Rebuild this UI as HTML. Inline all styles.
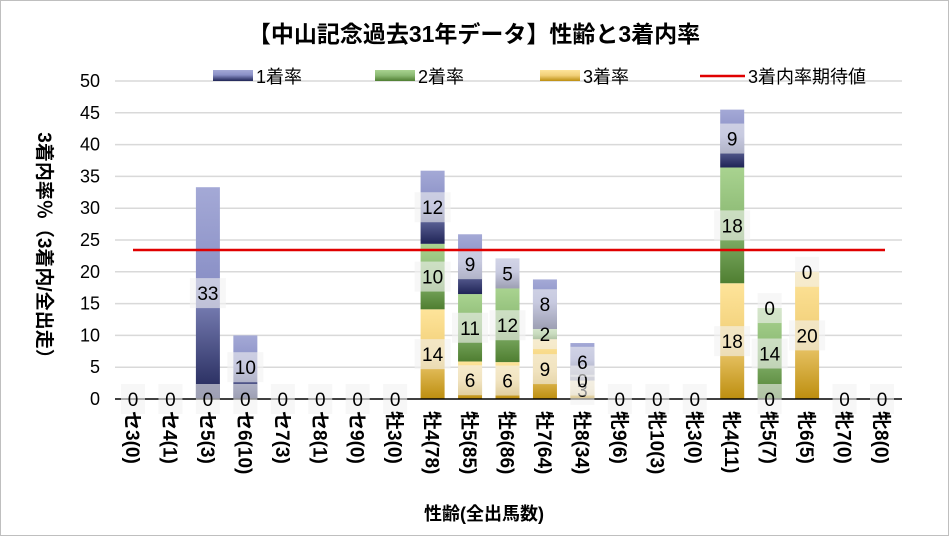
<!DOCTYPE html>
<html><head><meta charset="utf-8"><style>
body{margin:0;background:#fff}
svg{display:block;font-family:"Liberation Sans","Noto Sans CJK JP",sans-serif}
</style></head><body>
<svg id="c" width="949" height="536" viewBox="0 0 949 536" xmlns="http://www.w3.org/2000/svg">
<defs>
<linearGradient id="gb" x1="0" y1="0" x2="0" y2="1"><stop offset="0" stop-color="#a4a9d6"/><stop offset="0.45" stop-color="#8a90c6"/><stop offset="1" stop-color="#1f2456"/></linearGradient>
<linearGradient id="gg" x1="0" y1="0" x2="0" y2="1"><stop offset="0" stop-color="#a9d390"/><stop offset="0.5" stop-color="#8ab872"/><stop offset="1" stop-color="#4f7e31"/></linearGradient>
<linearGradient id="gy" x1="0" y1="0" x2="0" y2="1"><stop offset="0" stop-color="#fee49a"/><stop offset="0.5" stop-color="#f1cf78"/><stop offset="1" stop-color="#bd8e0f"/></linearGradient>
</defs>
<rect x="0.5" y="0.5" width="948" height="535" fill="#fff" stroke="#bfbfbf"/>
<text x="474" y="42" text-anchor="middle" font-size="23" font-weight="bold">【中山記念過去31年データ】性齢と3着内率</text>
<g id="g"></g>
</svg>
<script>
const g=document.getElementById('g');let s='';
const y0=399,u=6.36,x0=133,dx=37.45,bw=24;
for(let v=0;v<=50;v+=5){const y=y0-v*u;if(v>0)s+=`<line x1="115" x2="902" y1="${y}" y2="${y}" stroke="#d9d9d9" stroke-width="1.5"/>`;s+=`<text x="100" y="${y+6}" text-anchor="end" font-size="18">${v}</text>`;}
const cats=["セ3(0)","セ4(1)","セ5(3)","セ6(10)","セ7(3)","セ8(1)","セ9(0)","牡3(0)","牡4(78)","牡5(85)","牡6(86)","牡7(64)","牡8(34)","牝9(6)","牝10(3)","牝3(0)","牝4(11)","牝5(7)","牝6(5)","牝7(0)","牝8(0)"];
const d=[[0,0,0],[0,0,0],[0,0,33.3],[0,0,10],[0,0,0],[0,0,0],[0,0,0],[0,0,0],[14.1,10.3,11.5],[5.9,10.6,9.4],[5.8,11.6,4.7],[9.4,1.6,7.8],[2.9,0,5.9],[0,0,0],[0,0,0],[0,0,0],[18.2,18.2,9.1],[0,14.3,0],[20,0,0],[0,0,0],[0,0,0]];
const lab=[];
d.forEach((a,i)=>{const cx=x0+i*dx;let c=0;const fills=['url(#gy)','url(#gg)','url(#gb)'];
a.forEach((v,k)=>{const yt=y0-(c+v)*u,yb=y0-c*u;if(v>0)s+=`<rect x="${cx-bw/2}" y="${yt}" width="${bw}" height="${v*u}" fill="${fills[k]}"/>`;
lab.push([cx,(yt+yb)/2,Math.round(v)]);c+=v;});});
s+=`<line x1="115" x2="902" y1="${y0}" y2="${y0}" stroke="#000" stroke-width="1.5"/>`;
const seen={};
lab.forEach(([x,y,v])=>{const k=Math.round(x)+'_'+Math.round(y);if(seen[k])return;seen[k]=1;const w=String(v).length>1?36:24;
s+=`<rect x="${x-w/2}" y="${y-15}" width="${w}" height="30" fill="#f2f2f2" fill-opacity="0.6"/><text x="${x}" y="${y+7}" text-anchor="middle" font-size="19">${v}</text>`;});
s+=`<line x1="133" x2="885" y1="250" y2="250" stroke="#e00000" stroke-width="2.5"/>`;
cats.forEach((t,i)=>{const x=x0+i*dx;s+=`<text transform="translate(${x-7},411) rotate(90)" font-size="19" font-weight="bold">${t}</text>`;});
s+=`<text x="484" y="520" text-anchor="middle" font-size="18" font-weight="bold">性齢(全出馬数)</text>`;
s+=`<text transform="translate(38,250) rotate(90)" text-anchor="middle" font-size="19" font-weight="bold">3着内率％（3着内/全出走）</text>`;
const L=[[213,'url(#gb)','1着率'],[375,'url(#gg)','2着率'],[540,'url(#gy)','3着率']];
L.forEach(([x,f,t])=>{s+=`<rect x="${x}" y="70" width="40" height="11" fill="${f}"/><text x="${x+43}" y="83" font-size="18">${t}</text>`;});
s+=`<line x1="700" x2="745" y1="76" y2="76" stroke="#e00000" stroke-width="2.5"/><text x="748" y="83" font-size="18">3着内率期待値</text>`;
g.innerHTML=s;
</script>
</body></html>
